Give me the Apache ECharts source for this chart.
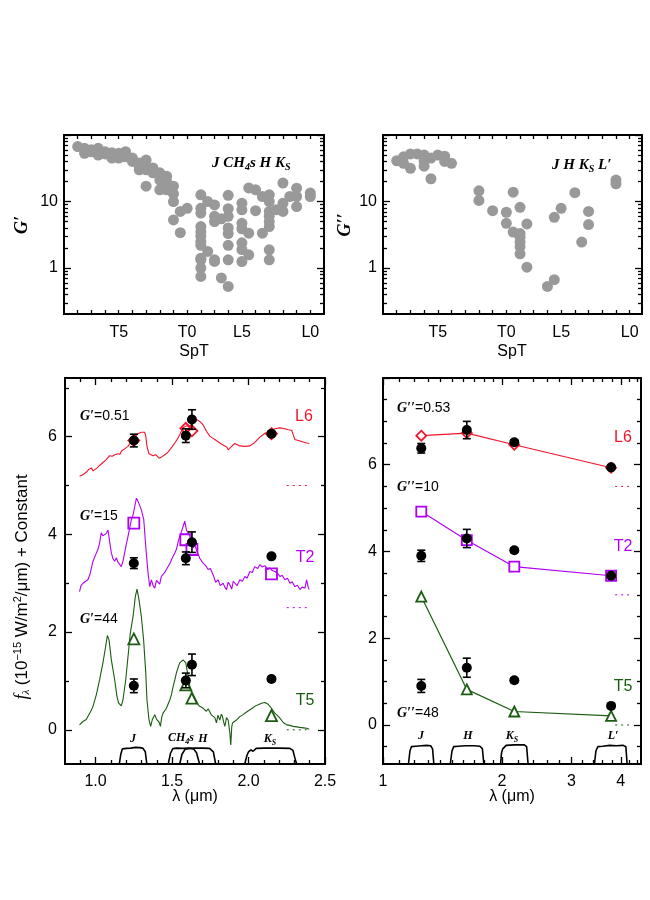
<!DOCTYPE html>
<html><head><meta charset="utf-8">
<script src="https://cdn.jsdelivr.net/npm/echarts@6/dist/echarts.min.js"></script>
<style>html,body{margin:0;padding:0;background:#fff}#c{width:650px;height:900px}</style>
</head><body><div id="c"></div>
<script>
// ---------------- DATA ----------------
// spectral type index: L0=0 ... L5=5 ... T0=9 ... T5=14
const sptTickValues = [14, 9, 5, 0];
const sptTickLabels = ['T5', 'T0', 'L5', 'L0'];

// G' (J CH4s H Ks) vs SpT
const gPrime = [
  [17,67],[16.5,63],[16.5,53],[16,56],[16,60],[15.5,63],[15.5,50],[15,56],[15,52],[14.5,50],[14.5,45],[14.5,54],
  [14,53],[14,45],[13.5,56],[13.5,47],[13.5,52],[13,45],[13,40],[12.5,38],[12.5,30],[12.5,34],[12,42],[12,30],[12,17],
  [11.5,32],[11.5,27],[11.5,28],[11,27],[11,21],[11,15],[10.5,24],[10.5,15],[10.5,20],[10,17],[10,13],[10,10],[10,5.3],
  [9.5,3.4],[9.5,7.1],[9,7.9],
  [8,12.6],[8,7.9],[8,6.7],[8,4.2],[8,3.5],[8,3.0],[8,2.5],[8,2.2],[8,1.41],[8,1.33],[8,1.0],[8,0.75],
  [7.5,10],[7.5,1.78],[7,8.9],[7,6.0],[7,5.0],[7,1.33],[7,1.26],[6.5,5.5],[6.5,0.71],
  [6,12.4],[6,7.8],[6,6.0],[6,4.0],[6,3.3],[6,2.2],[6,1.33],[6,0.53],
  [5,9.4],[5,7.5],[5,4.7],[5,3.9],[5,2.4],[5,1.9],[5,1.25],
  [4.5,16],[4.5,3.35],[4.5,1.58],[4,15],[4,7.3],[3.5,11.9],[3.5,3.35],
  [3,12.6],[3,10],[3,7.1],[3,6.0],[3,5.0],[3,4.2],[3,1.88],[3,1.33],
  [2.5,7.5],[2,19],[2,9.4],[2,7.1],[1.5,11.9],[1,15.9],[1,11.9],[1,8.4],[0,13.4],[0,11.9]
];
// G'' (J H Ks L') vs SpT
const gDoublePrime = [
  [17,41],[16.5,47],[16.5,37.6],[16,52],[16,31.6],[15.5,52],[15,50],[15,41],[15,34],[14.5,45],[14.5,22],
  [14,50],[13.5,48],[13.5,40],[13,37.6],[11,14.5],[11,10.4],[10,7.3],[9,6.9],[9,4.7],[8.5,13.8],[8.5,3.47],
  [8,8.2],[8,3.3],[8,2.9],[8,2.46],[8,2.1],[8,1.64],[7.5,4.6],[7.5,1.03],[6,0.53],[5.5,5.8],[5.5,0.67],
  [5,7.9],[4,13.6],[3.5,2.46],[3,7.1],[3,4.5],[1,21],[1,18.5]
];

// spectra [lambda um, f + constant]
const specL6 = [[0.895,5.19],[0.917,5.22],[0.939,5.27],[0.955,5.33],[0.972,5.36],[0.984,5.30],[0.994,5.31],[1.010,5.36],[1.026,5.41],[1.048,5.47],
  [1.070,5.53],[1.092,5.61],[1.110,5.60],[1.125,5.63],[1.146,5.65],[1.160,5.64],[1.168,5.70],[1.180,5.69],[1.190,5.75],[1.212,5.80],[1.234,5.90],
  [1.256,5.99],[1.277,6.06],[1.299,6.09],[1.321,6.09],[1.328,6.01],[1.336,5.80],[1.349,5.65],[1.362,5.62],[1.375,5.61],[1.393,5.63],
  [1.415,5.56],[1.430,5.58],[1.452,5.63],[1.470,5.67],[1.485,5.73],[1.500,5.79],[1.518,5.87],[1.535,5.95],[1.550,6.04],[1.572,6.18],[1.594,6.22],
  [1.616,6.21],[1.638,6.31],[1.659,6.35],[1.681,6.31],[1.703,6.24],[1.725,6.11],[1.747,6.01],[1.765,5.97],[1.780,5.94],[1.812,5.87],
  [1.845,5.81],[1.860,5.78],[1.867,5.73],[1.880,5.76],[1.889,5.80],[1.910,5.86],[1.943,5.81],[1.976,5.80],[2.009,5.81],[2.041,5.88],
  [2.074,5.99],[2.107,6.07],[2.140,6.11],[2.172,6.16],[2.205,6.18],[2.238,6.16],[2.260,6.14],[2.282,6.13],[2.292,6.04],[2.303,5.94],
  [2.315,5.95],[2.325,5.92],[2.347,5.90],[2.360,5.91],[2.380,5.87],[2.397,5.86]];
const specT2 = [[0.895,2.83],[0.905,2.95],[0.917,3.00],[0.930,2.96],[0.950,3.07],[0.965,3.20],[0.983,3.45],[1.000,3.58],[1.015,3.69],[1.025,3.80],
  [1.037,4.03],[1.048,3.97],[1.059,3.96],[1.070,4.02],[1.081,4.09],[1.092,3.85],[1.103,3.62],[1.114,3.50],[1.125,3.45],[1.136,3.52],[1.146,3.43],
  [1.157,3.40],[1.168,3.34],[1.179,3.45],[1.190,3.62],[1.201,3.80],[1.212,3.96],[1.234,4.30],[1.245,4.40],[1.256,4.57],[1.267,4.74],[1.277,4.68],
  [1.288,4.71],[1.299,4.50],[1.315,4.30],[1.328,3.75],[1.343,3.21],[1.354,2.93],[1.365,3.07],[1.376,2.95],[1.387,2.90],[1.398,3.06],[1.408,3.04],
  [1.419,2.98],[1.430,3.14],[1.441,3.10],[1.452,3.22],[1.463,3.28],[1.474,3.25],[1.485,3.40],[1.496,3.48],[1.507,3.55],[1.518,3.62],[1.528,3.69],
  [1.540,3.85],[1.550,3.96],[1.561,4.05],[1.572,4.16],[1.583,4.27],[1.594,4.09],[1.605,4.05],[1.616,3.96],[1.627,3.85],[1.638,3.72],[1.648,3.78],
  [1.659,3.69],[1.670,3.60],[1.681,3.51],[1.692,3.55],[1.703,3.41],[1.720,3.36],[1.736,3.28],[1.750,3.30],[1.769,3.17],[1.785,3.02],[1.801,3.07],
  [1.815,2.95],[1.834,3.00],[1.845,2.92],[1.856,2.87],[1.867,3.02],[1.878,2.97],[1.890,2.88],[1.900,3.04],[1.910,3.00],[1.925,2.95],[1.943,3.07],
  [1.960,3.04],[1.976,3.14],[1.990,3.10],[2.009,3.24],[2.025,3.22],[2.041,3.34],[2.060,3.30],[2.074,3.38],[2.090,3.33],[2.107,3.36],[2.125,3.28],
  [2.140,3.31],[2.155,3.26],[2.172,3.24],[2.190,3.20],[2.205,3.14],[2.220,3.16],[2.238,3.07],[2.255,3.10],[2.271,3.00],[2.285,3.03],[2.303,2.93],
  [2.320,2.96],[2.336,2.87],[2.350,2.92],[2.369,2.90],[2.380,3.07],[2.390,2.92],[2.397,2.87]];
const specT5 = [[0.895,0.10],[0.905,0.14],[0.917,0.17],[0.928,0.15],[0.939,0.21],[0.950,0.25],[0.961,0.34],[0.972,0.40],[0.983,0.48],[1.005,0.72],
  [1.026,1.02],[1.048,1.37],[1.066,1.71],[1.077,1.93],[1.088,1.84],[1.103,1.43],[1.125,1.02],[1.140,0.68],[1.150,0.55],[1.157,0.51],[1.168,0.49],
  [1.179,0.61],[1.197,1.02],[1.212,1.50],[1.227,1.98],[1.245,2.32],[1.260,2.73],[1.271,2.88],[1.284,2.66],[1.299,2.32],[1.314,1.84],[1.328,1.16],
  [1.336,0.61],[1.349,0.21],[1.360,0.07],[1.371,0.21],[1.380,0.18],[1.387,0.31],[1.398,0.22],[1.408,0.24],[1.416,0.15],[1.424,0.07],[1.432,0.25],
  [1.441,0.34],[1.452,0.30],[1.463,0.44],[1.474,0.48],[1.485,0.61],[1.496,0.72],[1.507,0.89],[1.518,1.02],[1.528,1.16],[1.540,1.28],[1.550,1.37],
  [1.561,1.40],[1.572,1.43],[1.590,1.37],[1.605,1.09],[1.620,0.82],[1.638,0.68],[1.648,0.62],[1.659,0.55],[1.670,0.52],[1.681,0.48],[1.692,0.50],
  [1.703,0.44],[1.715,0.42],[1.725,0.38],[1.736,0.43],[1.747,0.41],[1.758,0.30],[1.769,0.34],[1.780,0.25],[1.790,0.14],[1.800,0.30],[1.812,0.20],
  [1.822,0.32],[1.830,0.27],[1.838,0.15],[1.845,0.07],[1.856,0.25],[1.867,0.20],[1.873,0.05],[1.878,-0.07],[1.884,-0.31],[1.890,0.05],[1.895,0.14],
  [1.905,0.12],[1.921,0.20],[1.932,0.18],[1.943,0.27],[1.960,0.30],[1.976,0.34],[1.990,0.37],[2.009,0.41],[2.025,0.44],[2.041,0.48],[2.060,0.51],
  [2.074,0.53],[2.090,0.55],[2.107,0.56],[2.125,0.53],[2.140,0.48],[2.155,0.42],[2.172,0.34],[2.190,0.29],[2.205,0.24],[2.227,0.15],[2.249,0.10],
  [2.270,0.09],[2.292,0.07],[2.315,0.06],[2.336,0.05],[2.360,0.04],[2.380,0.03],[2.397,0.01]];

// photometry [lambda, value, error]  (left: J CH4s H Ks)
const photL6 = [[1.25,5.92,0.13],[1.59,6.02,0.14],[1.63,6.35,0.20],[2.15,6.06,0.04]];
const photT2 = [[1.25,3.41,0.11],[1.59,3.51,0.13],[1.63,3.84,0.21],[2.15,3.55,0.04]];
const photT5 = [[1.25,0.90,0.14],[1.59,1.01,0.15],[1.63,1.33,0.22],[2.15,1.04,0.04]];
const synL6 = [[1.25,5.92],[1.59,6.17],[1.63,6.12],[2.15,6.06]];
const synT2 = [[1.25,4.23],[1.59,3.89],[1.63,3.69],[2.15,3.19]];
const synT5 = [[1.25,1.86],[1.59,0.92],[1.63,0.65],[2.15,0.29]];
// right: J H Ks L'
const photL6r = [[1.25,6.38,0.11],[1.63,6.80,0.20],[2.15,6.52,0.05],[3.78,5.94,0.04]];
const photT2r = [[1.25,3.90,0.13],[1.63,4.30,0.21],[2.15,4.03,0.05],[3.78,3.44,0.04]];
const photT5r = [[1.25,0.90,0.15],[1.63,1.32,0.22],[2.15,1.03,0.05],[3.78,0.44,0.04]];
const synL6r = [[1.25,6.67],[1.63,6.73],[2.15,6.46],[3.78,5.93]];
const synT2r = [[1.25,4.92],[1.63,4.26],[2.15,3.65],[3.78,3.44]];
const synT5r = [[1.25,2.96],[1.63,0.82],[2.15,0.31],[3.78,0.21]];

// zero-level markers
const zeroLeft = {L6:[[2.25,5.0],[2.40,5.0]], T2:[[2.25,2.5],[2.40,2.5]], T5:[[2.25,0],[2.40,0]]};
const zeroRight = {L6:[[3.87,5.5],[4.30,5.5]], T2:[[3.87,3.0],[4.30,3.0]], T5:[[3.87,0],[4.30,0]]};

// filter profiles
const filtLeft = [
  [[1.155,-0.70],[1.165,-0.50],[1.175,-0.39],[1.20,-0.38],[1.23,-0.375],[1.26,-0.36],[1.29,-0.365],[1.31,-0.38],[1.325,-0.45],[1.335,-0.70]],
  [[1.475,-0.70],[1.49,-0.48],[1.505,-0.385],[1.53,-0.375],[1.57,-0.38],[1.61,-0.375],[1.64,-0.39],[1.66,-0.47],[1.68,-0.70]],
  [[1.55,-0.70],[1.565,-0.50],[1.585,-0.40],[1.61,-0.38],[1.65,-0.375],[1.70,-0.375],[1.745,-0.38],[1.77,-0.45],[1.785,-0.70]],
  [[1.975,-0.70],[1.99,-0.52],[2.00,-0.45],[2.015,-0.41],[2.03,-0.44],[2.05,-0.38],[2.10,-0.375],[2.20,-0.375],[2.27,-0.38],[2.29,-0.42],[2.305,-0.60],[2.315,-0.70]]
];
const filtRight = [
  [[1.16,-0.9],[1.17,-0.6],[1.18,-0.5],[1.21,-0.49],[1.25,-0.48],[1.29,-0.47],[1.32,-0.48],[1.335,-0.55],[1.345,-0.9]],
  [[1.48,-0.9],[1.495,-0.6],[1.51,-0.5],[1.55,-0.49],[1.62,-0.48],[1.70,-0.48],[1.76,-0.49],[1.785,-0.55],[1.80,-0.9]],
  [[1.985,-0.9],[1.995,-0.65],[2.01,-0.55],[2.03,-0.52],[2.05,-0.47],[2.15,-0.46],[2.28,-0.46],[2.31,-0.5],[2.33,-0.9]],
  [[3.43,-0.9],[3.46,-0.6],[3.5,-0.5],[3.6,-0.49],[3.75,-0.47],[3.9,-0.48],[4.05,-0.47],[4.12,-0.5],[4.15,-0.9]]
];

// axis tick values
const logMajor = [1, 10, 100];
const logLabels = [1, 10];
const logMinor = [0.3,0.4,0.5,0.6,0.7,0.8,0.9,2,3,4,5,6,7,8,9,20,30,40,50,60,70,80,90];
const lamLeftMajor = [1.0, 1.5, 2.0, 2.5];
const lamLeftMinor = [0.9,1.1,1.2,1.3,1.4,1.6,1.7,1.8,1.9,2.1,2.2,2.3,2.4];
const fLeftMajor = [0, 2, 4, 6];
const fLeftMinor = [1, 3, 5, 7];
const lamRightMajor = [1, 2, 3, 4];
const lamRightMinor = [1.1,1.2,1.3,1.4,1.5,1.6,1.7,1.8,1.9,2.2,2.4,2.6,2.8,3.2,3.4,3.6,3.8,4.2,4.4];
const fRightMajor = [0, 2, 4, 6, 8];
const fRightMinor = [-0.5,0.5,1,1.5,2.5,3,3.5,4.5,5,5.5,6.5,7,7.5];

// ---------------- COLOURS / FONTS ----------------
const RED = '#f2142d', PURPLE = '#b000f5', GREEN = '#1a5c10', GRAY = '#999999';
const SANS = 'Liberation Sans, Arial, sans-serif';
const SERIF = 'Liberation Serif, Times New Roman, serif';
const lg = Math.log10;

// ---------------- AXES ----------------
const xAxes = [], yAxes = [];
function push(list, o) { list.push(o); return list.length - 1; }
function tk(vals, len) { return {show: true, inside: true, length: len, customValues: vals, lineStyle: {color: '#000', width: 1.3}}; }
function lb(vals, fmt, margin) { return {show: true, customValues: vals, formatter: fmt, margin: margin, fontSize: 16, fontFamily: SANS, color: '#000'}; }
function axis(gi, pos, min, max, extra) {
  return Object.assign({
    type: 'value', gridIndex: gi, position: pos, min: min, max: max, silent: true,
    axisLine: {show: true, onZero: false, lineStyle: {color: '#000', width: 2}},
    axisTick: {show: false}, axisLabel: {show: false}, splitLine: {show: false}, minorTick: {show: false}
  }, extra || {});
}
function box(gi, xmin, xmax, ymin, ymax, o) {
  const r = {};
  r.x = push(xAxes, axis(gi, 'bottom', xmin, xmax, {inverse: !!o.xInv, axisTick: tk(o.xMaj, o.xMajLen), axisLabel: lb(o.xLab, o.xFmt, o.xMargin)}));
  if (o.xMin) push(xAxes, axis(gi, 'bottom', xmin, xmax, {inverse: !!o.xInv, axisTick: tk(o.xMin, 4)}));
  push(xAxes, axis(gi, 'top', xmin, xmax, {inverse: !!o.xInv, axisTick: tk(o.xMaj, o.xMajLen)}));
  if (o.xMin) push(xAxes, axis(gi, 'top', xmin, xmax, {inverse: !!o.xInv, axisTick: tk(o.xMin, 4)}));
  r.y = push(yAxes, axis(gi, 'left', ymin, ymax, {axisTick: tk(o.yMaj, 7), axisLabel: lb(o.yLab, o.yFmt, o.yMargin)}));
  push(yAxes, axis(gi, 'left', ymin, ymax, {axisTick: tk(o.yMin, 4)}));
  push(yAxes, axis(gi, 'right', ymin, ymax, {axisTick: tk(o.yMaj, 7)}));
  push(yAxes, axis(gi, 'right', ymin, ymax, {axisTick: tk(o.yMin, 4)}));
  return r;
}
const sptTicks = []; for (let i = 0; i <= 17; i++) sptTicks.push(i);
const sptFmt = v => { const i = sptTickValues.indexOf(Math.round(v)); return i >= 0 ? sptTickLabels[i] : ''; };
const logFmt = v => String(Math.round(Math.pow(10, v)));

const A0 = box(0, -1, 18, lg(0.204), 2, {xInv: true, xMaj: sptTicks, xMajLen: 4, xLab: sptTickValues, xFmt: sptFmt, xMargin: 11,
  yMaj: logMajor.map(lg), yMin: logMinor.map(lg), yLab: logLabels.map(lg), yFmt: logFmt, yMargin: 6});
const A1 = box(1, -0.9, 18, lg(0.204), 2, {xInv: true, xMaj: sptTicks, xMajLen: 4, xLab: sptTickValues, xFmt: sptFmt, xMargin: 11,
  yMaj: logMajor.map(lg), yMin: logMinor.map(lg), yLab: logLabels.map(lg), yFmt: logFmt, yMargin: 6});
const A2 = box(2, 0.8, 2.5, -0.7, 7.2, {xMaj: lamLeftMajor, xMajLen: 7, xMin: lamLeftMinor, xLab: lamLeftMajor, xFmt: v => v.toFixed(1), xMargin: 10,
  yMaj: fLeftMajor, yMin: fLeftMinor, yLab: fLeftMajor, yFmt: v => String(v), yMargin: 8});
const A3 = box(3, 0, lg(4.5), -0.9, 8, {xMaj: lamRightMajor.map(lg), xMajLen: 7, xMin: lamRightMinor.map(lg), xLab: lamRightMajor.map(lg), xFmt: logFmt, xMargin: 10,
  yMaj: fRightMajor, yMin: fRightMinor, yLab: fRightMajor.slice(0, 4), yFmt: v => String(v), yMargin: 6});

// ---------------- SERIES ----------------
const series = [];
function sc(A, data, extra) { series.push(Object.assign({type: 'scatter', xAxisIndex: A.x, yAxisIndex: A.y, data: data, silent: true, animation: false}, extra)); }
function ln(A, data, color, extra) { series.push(Object.assign({type: 'line', xAxisIndex: A.x, yAxisIndex: A.y, data: data, symbol: 'none', silent: true, animation: false,
  lineStyle: {color: color, width: 1.1}}, extra)); }
function err(A, data) {
  series.push({type: 'custom', xAxisIndex: A.x, yAxisIndex: A.y, data: data, silent: true, animation: false, z: 6, encode: {x: 0, y: 1},
    renderItem: function (p, api) {
      const x = api.value(0), y = api.value(1), e = api.value(2);
      const a = api.coord([x, y - e]), b = api.coord([x, y + e]);
      const st = {stroke: '#000', lineWidth: 1.6};
      return {type: 'group', children: [
        {type: 'line', shape: {x1: a[0], y1: a[1], x2: b[0], y2: b[1]}, style: st},
        {type: 'line', shape: {x1: a[0] - 4, y1: a[1], x2: a[0] + 4, y2: a[1]}, style: st},
        {type: 'line', shape: {x1: b[0] - 4, y1: b[1], x2: b[0] + 4, y2: b[1]}, style: st}
      ]};
    }});
}
const solid = c => ({color: c, opacity: 1});
// top panels
sc(A0, gPrime.map(d => [d[0], lg(d[1])]), {symbolSize: 11, itemStyle: solid(GRAY)});
sc(A1, gDoublePrime.map(d => [d[0], lg(d[1])]), {symbolSize: 11, itemStyle: solid(GRAY)});
// bottom-left
filtLeft.forEach(f => ln(A2, f, '#000', {lineStyle: {color: '#000', width: 1.6}}));
ln(A2, specL6, RED); ln(A2, specT2, PURPLE); ln(A2, specT5, GREEN);
ln(A2, zeroLeft.L6, RED, {lineStyle: {color: RED, width: 1, type: [2, 4]}});
ln(A2, zeroLeft.T2, PURPLE, {lineStyle: {color: PURPLE, width: 1, type: [2, 4]}});
ln(A2, zeroLeft.T5, GREEN, {lineStyle: {color: GREEN, width: 1, type: [2, 4]}});
const hollow = c => ({color: 'rgba(255,255,255,0)', borderColor: c, borderWidth: 1.8, opacity: 1});
sc(A2, synL6, {symbol: 'diamond', symbolSize: 11, itemStyle: hollow(RED), z: 4});
sc(A2, synT2, {symbol: 'rect', symbolSize: 11, itemStyle: hollow(PURPLE), z: 4});
sc(A2, synT5, {symbol: 'triangle', symbolSize: 11, itemStyle: hollow(GREEN), z: 4});
[photL6, photT2, photT5].forEach(p => { err(A2, p); sc(A2, p.map(d => [d[0], d[1]]), {symbolSize: 10, itemStyle: solid('#000'), z: 7}); });
// bottom-right
const toLog = arr => arr.map(d => [lg(d[0])].concat(d.slice(1)));
filtRight.forEach(f => ln(A3, toLog(f), '#000', {lineStyle: {color: '#000', width: 1.6}}));
ln(A3, toLog(zeroRight.L6), RED, {lineStyle: {color: RED, width: 1, type: [2, 4]}});
ln(A3, toLog(zeroRight.T2), PURPLE, {lineStyle: {color: PURPLE, width: 1, type: [2, 4]}});
ln(A3, toLog(zeroRight.T5), GREEN, {lineStyle: {color: GREEN, width: 1, type: [2, 4]}});
function synLine(data, color, sym) {
  ln(A3, toLog(data), color, {symbol: sym, symbolSize: 10, showSymbol: true, z: 4,
    itemStyle: {color: '#fff', borderColor: color, borderWidth: 1.8, opacity: 1}, lineStyle: {color: color, width: 1.2}});
}
synLine(synL6r, RED, 'diamond'); synLine(synT2r, PURPLE, 'rect'); synLine(synT5r, GREEN, 'triangle');
[photL6r, photT2r, photT5r].forEach(p => { err(A3, toLog(p)); sc(A3, toLog(p).map(d => [d[0], d[1]]), {symbolSize: 10, itemStyle: solid('#000'), z: 7}); });

// ---------------- TEXT ----------------
function T(x, y, text, o) {
  o = o || {};
  return {type: 'text', x: x, y: y, rotation: o.rot || 0, silent: true, z: 100,
    style: Object.assign({text: text, fill: o.fill || '#000', fontFamily: o.ff || SANS, fontSize: o.fs || 16, fontStyle: o.fst || 'normal',
      fontWeight: o.fw || 'normal', align: o.align || 'center', verticalAlign: 'middle', textAlign: o.align || 'center', textVerticalAlign: 'middle'}, o.extra || {})};
}
const BI = {fontFamily: SERIF, fontStyle: 'italic', fontWeight: 'bold'};
const rich = {
  b: Object.assign({fontSize: 15, lineHeight: 18, verticalAlign: 'middle'}, BI),
  s: Object.assign({fontSize: 10, lineHeight: 9, verticalAlign: 'bottom'}, BI),
  fb: Object.assign({fontSize: 12, lineHeight: 15, verticalAlign: 'middle'}, BI),
  fs: Object.assign({fontSize: 8, lineHeight: 7, verticalAlign: 'bottom'}, BI),
  g: Object.assign({fontSize: 14, lineHeight: 16, verticalAlign: 'middle'}, BI),
  n: {fontFamily: SANS, fontSize: 14, lineHeight: 16, verticalAlign: 'middle'},
  yl: {fontFamily: SANS, fontSize: 17, lineHeight: 20, verticalAlign: 'middle'},
  yf: {fontFamily: SERIF, fontStyle: 'italic', fontSize: 18, lineHeight: 20, verticalAlign: 'middle'},
  ysub: {fontFamily: SERIF, fontStyle: 'italic', fontSize: 11, lineHeight: 10, verticalAlign: 'bottom'},
  ysup: {fontFamily: SANS, fontSize: 11, lineHeight: 10, verticalAlign: 'top'}
};
function R(x, y, text, align, rot) {
  return {type: 'text', x: x, y: y, rotation: rot || 0, silent: true, z: 100,
    style: {text: text, rich: rich, align: align || 'left', verticalAlign: 'middle', textAlign: align || 'left', textVerticalAlign: 'middle', fill: '#000'}};
}
const gfx = [
  T(22, 225, 'G′', {ff: SERIF, fst: 'italic', fw: 'bold', fs: 18, rot: Math.PI / 2}),
  T(345, 225, 'G′′', {ff: SERIF, fst: 'italic', fw: 'bold', fs: 18, rot: Math.PI / 2}),
  R(212, 163, '{b|J CH}{s|4}{b|s H K}{s|S}'),
  R(552, 165, '{b|J H K}{s|S}{b| L′}'),
  T(194, 352, 'SpT'), T(512, 352, 'SpT'),
  T(195, 797, 'λ (μm)'), T(512, 797, 'λ (μm)'),
  R(22, 587, '{yf|f}{ysub|λ}{yl| (10}{ysup|−15}{yl| W/m}{ysup|2}{yl|/μm) + Constant}', 'center', Math.PI / 2),
  R(80, 416, '{g|G′}{n|=0.51}'), R(80, 516, '{g|G′}{n|=15}'), R(80, 619, '{g|G′}{n|=44}'),
  T(304, 417, 'L6', {fill: RED, fs: 16}), T(305, 558, 'T2', {fill: PURPLE, fs: 16}), T(305, 701, 'T5', {fill: GREEN, fs: 16}),
  R(133, 739, '{fb|J}', 'center'), R(181, 738, '{fb|CH}{fs|4}{fb|s}', 'center'), R(203, 739, '{fb|H}', 'center'), R(270, 739, '{fb|K}{fs|S}', 'center'),
  R(397, 408, '{g|G′′}{n|=0.53}'), R(397, 487, '{g|G′′}{n|=10}'), R(397, 713, '{g|G′′}{n|=48}'),
  T(623, 438, 'L6', {fill: RED, fs: 16}), T(623, 547, 'T2', {fill: PURPLE, fs: 16}), T(623, 687, 'T5', {fill: GREEN, fs: 16}),
  R(421, 736, '{fb|J}', 'center'), R(468, 736, '{fb|H}', 'center'), R(512, 736, '{fb|K}{fs|S}', 'center'), R(613, 736, '{fb|L′}', 'center')
];

const chart = echarts.init(document.getElementById('c'), null, {renderer: 'canvas', width: 650, height: 900});
chart.setOption({
  animation: false,
  backgroundColor: '#fff',
  grid: [
    {left: 64, top: 135, width: 260, height: 179, outerBoundsMode: 'none'},
    {left: 383, top: 135, width: 259, height: 179, outerBoundsMode: 'none'},
    {left: 65, top: 378, width: 260, height: 386, outerBoundsMode: 'none'},
    {left: 383, top: 378, width: 258, height: 386, outerBoundsMode: 'none'}
  ],
  xAxis: xAxes, yAxis: yAxes, series: series, graphic: gfx
});
</script></body></html>
